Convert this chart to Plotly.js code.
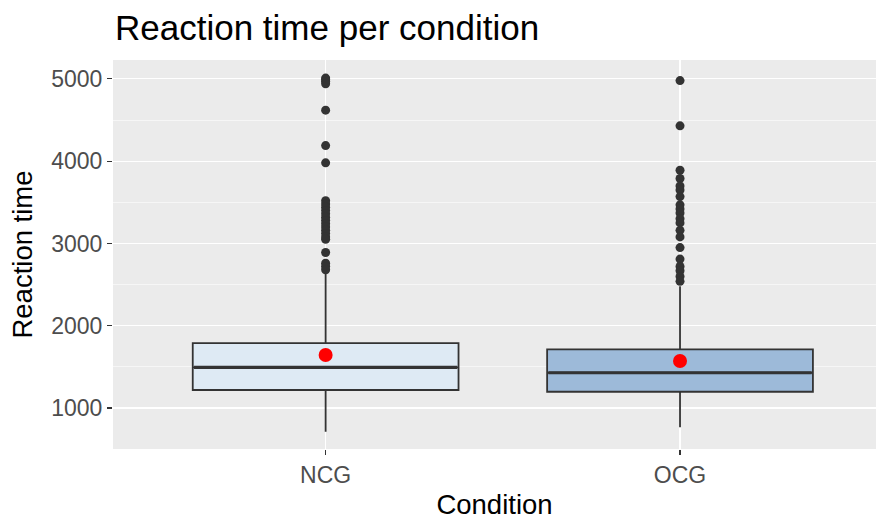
<!DOCTYPE html>
<html>
<head>
<meta charset="utf-8">
<script src="https://cdn.plot.ly/plotly-3.0.1.min.js"></script>
<style>html,body{margin:0;padding:0;background:#fff;}#chart{width:876px;height:520px;}</style>
</head>
<body>
<div id="chart"></div>
<script>
// ---- data ----
var categories = ['NCG', 'OCG'];
var q1 = [1219, 1198];
var medians = [1495, 1429];
var q3 = [1790, 1714];
var lowerWhisker = [712, 765];
var upperWhisker = [2640, 2480];
var means = [1644, 1571];
var ncgOutliers = [5010, 4990, 4970, 4940, 4620, 4190, 3980, 3520, 3480, 3440, 3400, 3360, 3320, 3280, 3240, 3200, 3160, 3120, 3080, 3050, 2890, 2760, 2720, 2680];
var ocgOutliers = [4980, 4430, 3890, 3790, 3700, 3650, 3570, 3470, 3420, 3370, 3300, 3250, 3160, 3080, 2950, 2810, 2720, 2670, 2600, 2540];
var fills = ['#DEEAF4', '#9DBAD9'];

var FONT = 'Liberation Sans, Arial, sans-serif';
var traces = [];
categories.forEach(function (c, i) {
  traces.push({
    type: 'box', x: [c], q1: [q1[i]], median: [medians[i]], q3: [q3[i]],
    lowerfence: [lowerWhisker[i]], upperfence: [upperWhisker[i]],
    boxpoints: false, width: 0.75, whiskerwidth: 0,
    fillcolor: fills[i], line: {color: '#333333', width: 1.8},
    hoverinfo: 'skip', showlegend: false
  });
});
// thicker median line (line-ew marker spans size*sqrt(2) px)
traces.push({
  type: 'scatter', mode: 'markers', x: categories, y: medians,
  marker: {symbol: 'line-ew', size: 188, color: '#333333', line: {color: '#333333', width: 3.2}},
  hoverinfo: 'skip', showlegend: false, cliponaxis: true
});
// outliers
var outlierSets = [ncgOutliers, ocgOutliers];
categories.forEach(function (c, i) {
  traces.push({
    type: 'scatter', mode: 'markers',
    x: outlierSets[i].map(function () { return c; }), y: outlierSets[i],
    marker: {color: '#333333', size: 9},
    hoverinfo: 'skip', showlegend: false
  });
});
// means
traces.push({
  type: 'scatter', mode: 'markers', x: categories, y: means,
  marker: {color: '#FF0000', size: 14},
  hoverinfo: 'skip', showlegend: false
});

var layout = {
  width: 876, height: 520,
  margin: {l: 113, r: 0, t: 60, b: 71},
  paper_bgcolor: '#FFFFFF', plot_bgcolor: '#EBEBEB',
  font: {family: FONT},
  title: {
    text: 'Reaction time per condition',
    font: {family: FONT, size: 35, color: '#000000'},
    x: 115 / 876, xref: 'container', xanchor: 'left',
    y: 1 - 28 / 520, yref: 'container', yanchor: 'middle'
  },
  xaxis: {
    type: 'category', categoryorder: 'array', categoryarray: categories,
    range: [-0.6, 1.553], showgrid: true, gridcolor: '#FFFFFF', gridwidth: 1.1,
    zeroline: false, showline: false,
    ticks: 'outside', ticklen: 5, tickwidth: 1.1, tickcolor: '#333333',
    tickfont: {family: FONT, size: 23, color: '#4D4D4D'},
    title: {text: 'Condition', font: {family: FONT, size: 27.5, color: '#000000'}, standoff: 8}
  },
  yaxis: {
    range: [502, 5230], tick0: 0, dtick: 1000,
    showgrid: true, gridcolor: '#FFFFFF', gridwidth: 1.1,
    minor: {tick0: 500, dtick: 1000, showgrid: true, gridcolor: '#FFFFFF', gridwidth: 0.55, ticks: ''},
    zeroline: false, showline: false,
    ticks: 'outside', ticklen: 5, tickwidth: 1.1, tickcolor: '#333333',
    tickfont: {family: FONT, size: 23, color: '#4D4D4D'},
    title: {text: 'Reaction time', font: {family: FONT, size: 27.5, color: '#000000'}, standoff: 10}
  },
  showlegend: false
};

Plotly.newPlot('chart', traces, layout, {displayModeBar: false, staticPlot: true});
</script>
</body>
</html>
